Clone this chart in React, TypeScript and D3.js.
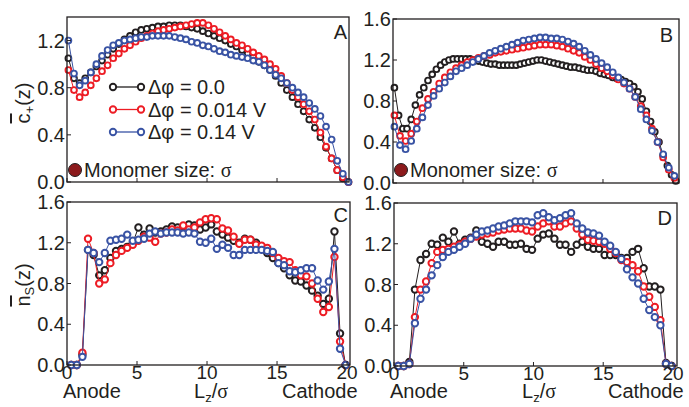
import React from 'react';
import * as d3 from 'd3';

const FONT = '"Liberation Sans", Arial, Helvetica, sans-serif';
const SERIF = '"Liberation Serif", "Times New Roman", serif';
const INK = '#231f20';
const RED = '#ed1c24';
const BLUE = '#3953a4';
const MONOMER = '#8c1a1c';

// sampling positions (z / sigma)
const gridA = d3.range(51).map(i => 0.1 + 0.4 * i);
const gridBk = d3.range(68).map(i => 0.1 + 0.3 * i);
const gridB = d3.range(51).map(i => 0.1 + 0.4 * i);
const gridCD = d3.range(50).map(i => 0.3 + 0.4 * i);

// Panel A : c+(z)
const aBlack = [1.05,0.88,0.84,0.88,0.93,0.98,1.03,1.08,1.13,1.17,1.21,1.24,1.27,1.29,1.3,1.31,1.32,1.32,1.33,1.33,1.33,1.32,1.31,1.3,1.28,1.26,1.24,1.22,1.2,1.17,1.15,1.12,1.09,1.06,1.02,0.99,0.95,0.9,0.84,0.78,0.72,0.66,0.6,0.53,0.46,0.38,0.29,0.2,0.1,0.03,0.0];
const aRed = [0.95,0.78,0.72,0.76,0.82,0.88,0.94,0.99,1.05,1.09,1.13,1.16,1.19,1.22,1.24,1.26,1.28,1.29,1.3,1.31,1.32,1.33,1.34,1.35,1.35,1.33,1.3,1.27,1.24,1.21,1.18,1.16,1.13,1.1,1.07,1.04,1.0,0.96,0.9,0.84,0.78,0.72,0.66,0.6,0.53,0.42,0.3,0.2,0.1,0.04,0.0];
const aBlue = [1.2,0.92,0.82,0.86,0.93,1.0,1.07,1.12,1.16,1.18,1.2,1.21,1.22,1.23,1.23,1.24,1.24,1.24,1.24,1.23,1.22,1.21,1.19,1.18,1.16,1.15,1.13,1.11,1.1,1.08,1.07,1.06,1.05,1.03,1.02,0.99,0.95,0.91,0.88,0.84,0.8,0.76,0.72,0.67,0.62,0.56,0.47,0.36,0.18,0.07,0.0];

// Panel B : c+(z), larger monomer
const bBlack = [0.93,0.66,0.53,0.53,0.62,0.76,0.86,0.93,1.0,1.06,1.11,1.15,1.18,1.2,1.21,1.21,1.21,1.21,1.21,1.2,1.19,1.18,1.17,1.16,1.16,1.15,1.15,1.15,1.15,1.15,1.16,1.17,1.18,1.19,1.2,1.2,1.19,1.18,1.17,1.16,1.15,1.14,1.13,1.13,1.12,1.11,1.1,1.1,1.09,1.07,1.06,1.05,1.03,1.02,1.01,0.99,0.97,0.94,0.89,0.82,0.7,0.6,0.5,0.4,0.27,0.17,0.08,0.02];
const bRed = [0.66,0.46,0.41,0.48,0.6,0.73,0.82,0.89,0.97,1.03,1.08,1.12,1.15,1.18,1.2,1.22,1.24,1.25,1.27,1.28,1.29,1.3,1.31,1.32,1.33,1.34,1.35,1.35,1.35,1.34,1.33,1.31,1.29,1.27,1.23,1.2,1.16,1.12,1.09,1.05,1.01,0.97,0.92,0.84,0.75,0.66,0.53,0.4,0.25,0.13,0.05];
const bBlue = [0.55,0.37,0.33,0.41,0.53,0.64,0.76,0.85,0.92,0.98,1.04,1.09,1.12,1.15,1.18,1.21,1.24,1.27,1.29,1.31,1.33,1.35,1.37,1.39,1.4,1.41,1.42,1.42,1.41,1.41,1.4,1.38,1.36,1.33,1.29,1.25,1.21,1.17,1.13,1.08,1.03,0.98,0.92,0.84,0.72,0.62,0.51,0.4,0.28,0.15,0.07];

// Panel C : n_S(z)
const cBlack = [0,0,0.1,1.13,1.08,0.88,0.93,1.05,1.12,1.14,1.16,1.2,1.35,1.28,1.34,1.3,1.31,1.33,1.36,1.35,1.36,1.38,1.37,1.33,1.35,1.38,1.31,1.28,1.25,1.22,1.2,1.24,1.23,1.2,1.14,1.1,1.05,1.0,0.95,0.88,0.83,0.82,0.78,0.73,0.68,0.6,0.65,1.31,0.31,0];
const cRed = [0,0,0.12,1.24,1.1,0.8,0.84,1.0,1.08,1.12,1.15,1.18,1.22,1.26,1.25,1.21,1.29,1.3,1.33,1.32,1.37,1.33,1.35,1.4,1.43,1.44,1.43,1.34,1.32,1.26,1.19,1.23,1.23,1.18,1.17,1.15,1.1,1.05,1.02,1.01,0.93,0.88,0.87,0.8,0.65,0.52,0.57,1.06,0.23,0];
const cBlue = [0,0,0.08,1.13,1.1,1.01,1.1,1.22,1.23,1.24,1.28,1.22,1.23,1.24,1.29,1.31,1.29,1.3,1.3,1.3,1.29,1.3,1.29,1.21,1.2,1.24,1.14,1.18,1.15,1.08,1.08,1.13,1.13,1.13,1.13,1.12,1.11,1.0,0.98,0.92,0.91,0.93,0.95,0.95,0.83,0.74,0.82,1.14,0.16,0];

// Panel D : n_S(z), larger monomer
const dBlack = [0,0,0.04,0.75,1.04,1.1,1.2,1.19,1.26,1.22,1.32,1.2,1.24,1.26,1.33,1.22,1.2,1.17,1.22,1.22,1.19,1.19,1.2,1.15,1.14,1.25,1.29,1.3,1.25,1.19,1.19,1.12,1.19,1.22,1.17,1.15,1.15,1.09,1.09,1.09,1.06,1.06,1.12,1.15,0.96,0.78,0.78,0.75,0.03,0];
const dRed = [0,0,0.02,0.48,0.75,0.83,1.01,1.12,1.14,1.15,1.17,1.19,1.22,1.25,1.27,1.29,1.3,1.31,1.33,1.34,1.35,1.35,1.35,1.33,1.32,1.37,1.4,1.42,1.37,1.37,1.4,1.42,1.35,1.29,1.24,1.23,1.22,1.2,1.15,1.11,1.04,1.02,0.99,0.93,0.78,0.68,0.58,0.45,0.02,0];
const dBlue = [0,0,0.02,0.42,0.66,0.75,0.89,0.99,1.07,1.12,1.14,1.17,1.2,1.25,1.29,1.32,1.33,1.35,1.37,1.38,1.4,1.42,1.42,1.42,1.41,1.48,1.5,1.46,1.43,1.45,1.48,1.5,1.4,1.35,1.31,1.3,1.28,1.22,1.18,1.12,1.05,0.95,0.87,0.81,0.66,0.55,0.48,0.4,0.02,0];

const legendLabels = ['\u0394\u03c6 = 0.0', '\u0394\u03c6 = 0.014 V', '\u0394\u03c6 = 0.14 V'];
const colors = [INK, RED, BLUE];
const xTickValues = [0, 5, 10, 15, 20];
const yTicksA = [0, 0.4, 0.8, 1.2];
const yTicksFull = [0, 0.4, 0.8, 1.2, 1.6];

type Series = { xs: number[]; ys: number[]; color: string };

function Panel(props: {
  x0: number; x1: number; y0: number; y1: number;
  xMax: number; yMax: number; yTicks: number[];
  series: Series[]; letter: string; letterX: number; letterY: number;
  r: number; sw: number; xLabels: boolean;
}) {
  const { x0, x1, y0, y1, xMax, yMax, yTicks, series, letter, letterX, letterY, r, sw, xLabels } = props;
  const x = d3.scaleLinear().domain([0, xMax]).range([x0, x1]);
  const y = d3.scaleLinear().domain([0, yMax]).range([y1, y0]);
  const line = d3.line<[number, number]>().x(d => x(d[0])).y(d => y(d[1]));
  return (
    <g>
      {series.map((s, si) => {
        const pts: [number, number][] = s.xs.map((v, i) => [v, s.ys[i]]);
        return (
          <g key={si}>
            <path d={line(pts) || ''} fill="none" stroke={s.color} strokeWidth={1} />
            {pts.map((p, i) => (
              <circle key={i} cx={x(p[0])} cy={y(p[1])} r={r} fill="white" stroke={s.color} strokeWidth={sw} />
            ))}
          </g>
        );
      })}
      <rect x={x0} y={y0} width={x1 - x0} height={y1 - y0} fill="none" stroke={INK} strokeWidth={1.3} />
      {yTicks.map(t => (
        <g key={'y' + t}>
          <line x1={x0} x2={x0 + 4} y1={y(t)} y2={y(t)} stroke={INK} strokeWidth={1} />
          <text x={x0 - 2} y={y(t)} dy="0.36em" textAnchor="end" fontSize={20} fontFamily={FONT} fill={INK}>{t.toFixed(1)}</text>
        </g>
      ))}
      {xTickValues.map(t => (
        <g key={'x' + t}>
          <line x1={x(t)} x2={x(t)} y1={y1} y2={y1 - 4} stroke={INK} strokeWidth={1} />
          {xLabels && (
            <text x={x(t)} y={y1 + 14} textAnchor="middle" fontSize={19} fontFamily={FONT} fill={INK}>{t}</text>
          )}
        </g>
      ))}
      <text x={letterX} y={letterY} textAnchor="end" fontSize={20} fontFamily={FONT} fill={INK}>{letter}</text>
    </g>
  );
}

function XTitle({ left, mid, right, y }: { left: number; mid: number; right: number; y: number }) {
  return (
    <g fontFamily={FONT} fontSize={20} fill={INK}>
      <text x={left} y={y}>Anode</text>
      <text x={mid} y={y} textAnchor="middle">L<tspan fontSize={13} dy={4}>z</tspan><tspan dy={-4}>/</tspan><tspan fontFamily={SERIF}>σ</tspan></text>
      <text x={right} y={y}>Cathode</text>
    </g>
  );
}

function Monomer({ cx, cy }: { cx: number; cy: number }) {
  return (
    <g>
      <circle cx={cx} cy={cy} r={6.5} fill={MONOMER} stroke={INK} strokeWidth={1} />
      <text x={cx + 9} y={cy} dy="0.36em" fontSize={20} fontFamily={FONT} fill={INK}>Monomer size: <tspan fontFamily={SERIF}>σ</tspan></text>
    </g>
  );
}

export default function App() {
  const mk = (xs: number[], arrs: number[][], xsFirst?: number[]): Series[] =>
    arrs.map((ys, i) => ({ xs: i === 0 && xsFirst ? xsFirst : xs, ys, color: colors[i] }));
  return (
    <svg width={689} height={407} style={{ position: 'absolute', left: 0, top: 0, background: 'white' }}>
      <rect width={689} height={407} fill="white" />
      <Panel x0={67} x1={349} y0={17} y1={182} xMax={20.14} yMax={1.4} yTicks={yTicksA}
        series={mk(gridA, [aBlack, aRed, aBlue])} letter="A" letterX={347} letterY={39} r={2.9} sw={1.9} xLabels={false} />
      <Panel x0={393} x1={679} y0={19} y1={183} xMax={20.43} yMax={1.6} yTicks={yTicksFull}
        series={mk(gridB, [bBlack, bRed, bBlue], gridBk)} letter="B" letterX={673} letterY={42} r={2.9} sw={1.9} xLabels={false} />
      <Panel x0={67} x1={350} y0={202} y1={365} xMax={20.21} yMax={1.6} yTicks={yTicksFull}
        series={mk(gridCD, [cBlack, cRed, cBlue])} letter="C" letterX={348} letterY={222} r={3.2} sw={2} xLabels={true} />
      <Panel x0={394} x1={677} y0={203} y1={366} xMax={20.29} yMax={1.6} yTicks={yTicksFull}
        series={mk(gridCD, [dBlack, dRed, dBlue])} letter="D" letterX={672} letterY={225} r={3.2} sw={2} xLabels={true} />

      {/* legend in A */}
      {legendLabels.map((lab, i) => {
        const ly = 87 + i * 22.5;
        return (
          <g key={lab}>
            <line x1={113} x2={141} y1={ly} y2={ly} stroke={colors[i]} strokeWidth={1.3} />
            <circle cx={113} cy={ly} r={3.2} fill="white" stroke={colors[i]} strokeWidth={1.9} />
            <circle cx={141} cy={ly} r={3.2} fill="white" stroke={colors[i]} strokeWidth={1.9} />
            <text x={148} y={ly} dy="0.36em" fontSize={20} fontFamily={FONT} fill={INK}>{lab}</text>
          </g>
        );
      })}

      <Monomer cx={75} cy={170} />
      <Monomer cx={401} cy={170} />

      {/* y titles */}
      <text transform="translate(30,103) rotate(-90)" textAnchor="middle" fontSize={20} fontFamily={FONT} fill={INK}>
        <tspan style={{ textDecoration: 'overline' }}>c</tspan><tspan fontSize={13} dy={4}>+</tspan><tspan dy={-4}>(z)</tspan>
      </text>
      <text transform="translate(30,285) rotate(-90)" textAnchor="middle" fontSize={20} fontFamily={FONT} fill={INK}>
        <tspan style={{ textDecoration: 'overline' }}>n</tspan><tspan fontSize={13} dy={4}>S</tspan><tspan dy={-4}>(z)</tspan>
      </text>

      <XTitle left={63} mid={211} right={282} y={398} />
      <XTitle left={390} mid={539} right={608} y={398} />
    </svg>
  );
}
